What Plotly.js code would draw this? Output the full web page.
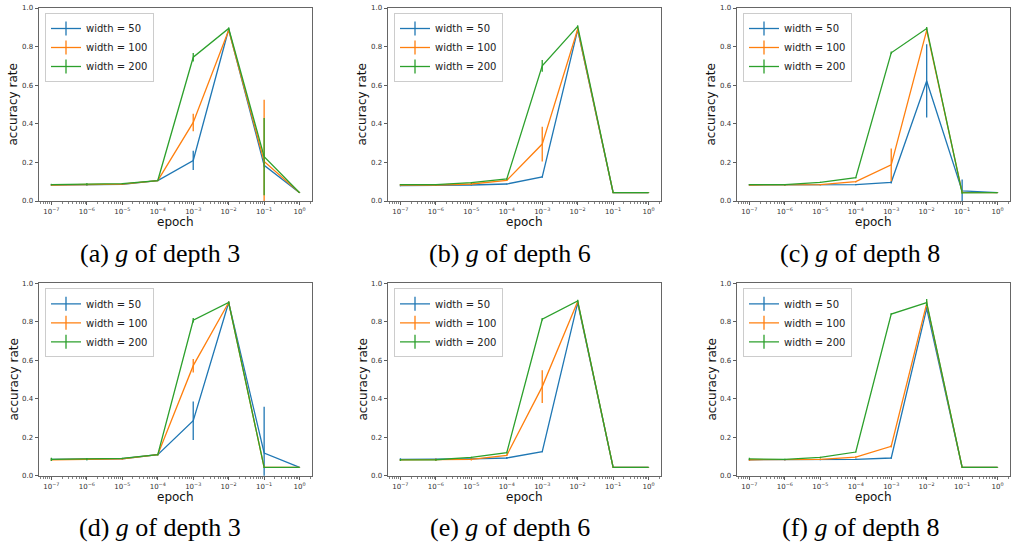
<!DOCTYPE html>
<html>
<head>
<meta charset="utf-8">
<script src="https://cdn.plot.ly/plotly-3.0.1.min.js"></script>
<style>html,body{margin:0;padding:0;background:#fff;}#chart{width:1012px;height:546px;}</style>
</head>
<body>
<div id="chart"></div>
<script>
// ---- data ----
const epochs = [1e-7, 1e-6, 1e-5, 1e-4, 1e-3, 1e-2, 1e-1, 1];
const epochTickLabels = ['10<sup>−7</sup>','10<sup>−6</sup>','10<sup>−5</sup>','10<sup>−4</sup>','10<sup>−3</sup>','10<sup>−2</sup>','10<sup>−1</sup>','10<sup>0</sup>'];
const seriesNames = ['width = 50', 'width = 100', 'width = 200'];
const captions = ['(a) <i>g</i> of depth 3','(b) <i>g</i> of depth 6','(c) <i>g</i> of depth 8',
                  '(d) <i>g</i> of depth 3','(e) <i>g</i> of depth 6','(f) <i>g</i> of depth 8'];

// (a)
const a_w50   = [0.083, 0.085, 0.086, 0.106, 0.210, 0.890, 0.185, 0.043];
const a_w50e  = [0.004, 0.005, 0.003, 0.003, 0.050, 0.005, 0.010, 0.001];
const a_w100  = [0.083, 0.085, 0.087, 0.106, 0.407, 0.885, 0.205, 0.043];
const a_w100e = [0.004, 0.004, 0.003, 0.003, 0.045, 0.005, 0.320, 0.001];
const a_w200  = [0.085, 0.087, 0.090, 0.106, 0.745, 0.894, 0.230, 0.043];
const a_w200e = [0.004, 0.005, 0.003, 0.003, 0.022, 0.005, 0.200, 0.001];
// (b)
const b_w50   = [0.080, 0.081, 0.083, 0.088, 0.125, 0.887, 0.043, 0.043];
const b_w50e  = [0.004, 0.003, 0.003, 0.003, 0.004, 0.005, 0.001, 0.001];
const b_w100  = [0.083, 0.083, 0.088, 0.107, 0.295, 0.890, 0.043, 0.043];
const b_w100e = [0.004, 0.003, 0.005, 0.004, 0.090, 0.010, 0.001, 0.001];
const b_w200  = [0.085, 0.085, 0.095, 0.114, 0.700, 0.905, 0.043, 0.043];
const b_w200e = [0.003, 0.003, 0.004, 0.004, 0.030, 0.005, 0.001, 0.001];
// (c)
const c_w50   = [0.083, 0.083, 0.085, 0.085, 0.097, 0.622, 0.052, 0.043];
const c_w50e  = [0.004, 0.003, 0.003, 0.003, 0.006, 0.190, 0.060, 0.001];
const c_w100  = [0.083, 0.083, 0.085, 0.100, 0.187, 0.884, 0.045, 0.043];
const c_w100e = [0.003, 0.003, 0.003, 0.004, 0.085, 0.010, 0.006, 0.001];
const c_w200  = [0.085, 0.085, 0.097, 0.121, 0.768, 0.894, 0.042, 0.043];
const c_w200e = [0.003, 0.003, 0.003, 0.003, 0.006, 0.008, 0.003, 0.001];
// (d)
const d_w50   = [0.085, 0.085, 0.088, 0.109, 0.286, 0.900, 0.118, 0.043];
const d_w50e  = [0.006, 0.005, 0.004, 0.003, 0.100, 0.005, 0.240, 0.001];
const d_w100  = [0.083, 0.085, 0.087, 0.109, 0.572, 0.900, 0.043, 0.043];
const d_w100e = [0.006, 0.004, 0.003, 0.003, 0.035, 0.005, 0.002, 0.001];
const d_w200  = [0.085, 0.086, 0.090, 0.109, 0.808, 0.900, 0.043, 0.043];
const d_w200e = [0.008, 0.006, 0.003, 0.003, 0.012, 0.005, 0.002, 0.001];
// (e)
const e_w50   = [0.085, 0.085, 0.087, 0.092, 0.125, 0.898, 0.043, 0.043];
const e_w50e  = [0.006, 0.005, 0.003, 0.005, 0.003, 0.005, 0.001, 0.001];
const e_w100  = [0.082, 0.083, 0.085, 0.106, 0.463, 0.905, 0.043, 0.043];
const e_w100e = [0.005, 0.006, 0.006, 0.004, 0.085, 0.006, 0.001, 0.001];
const e_w200  = [0.082, 0.083, 0.095, 0.120, 0.813, 0.908, 0.043, 0.043];
const e_w200e = [0.005, 0.004, 0.004, 0.005, 0.006, 0.006, 0.001, 0.001];
// (f)
const f_w50   = [0.083, 0.083, 0.083, 0.085, 0.092, 0.870, 0.043, 0.043];
const f_w50e  = [0.005, 0.004, 0.003, 0.004, 0.004, 0.015, 0.001, 0.001];
const f_w100  = [0.083, 0.083, 0.085, 0.097, 0.153, 0.894, 0.043, 0.043];
const f_w100e = [0.005, 0.003, 0.004, 0.004, 0.006, 0.015, 0.001, 0.001];
const f_w200  = [0.087, 0.085, 0.095, 0.123, 0.840, 0.900, 0.043, 0.043];
const f_w200e = [0.006, 0.003, 0.004, 0.003, 0.004, 0.018, 0.001, 0.001];

// ---- build ----
const panels = [
  [[a_w50,a_w50e],[a_w100,a_w100e],[a_w200,a_w200e]],
  [[b_w50,b_w50e],[b_w100,b_w100e],[b_w200,b_w200e]],
  [[c_w50,c_w50e],[c_w100,c_w100e],[c_w200,c_w200e]],
  [[d_w50,d_w50e],[d_w100,d_w100e],[d_w200,d_w200e]],
  [[e_w50,e_w50e],[e_w100,e_w100e],[e_w200,e_w200e]],
  [[f_w50,f_w50e],[f_w100,f_w100e],[f_w200,f_w200e]]
];
const colors = ['#1f77b4', '#ff7f0e', '#2ca02c'];
const W = 1012, H = 546;
const colPx = [[39, 312], [388, 661], [737, 1010]];
const rowPx = [[8, 201], [283.3, 475.7]];

const minorVals = [];
for (let k = -8; k <= 0; k++) for (let m = 2; m <= 9; m++) minorVals.push(m * Math.pow(10, k));

const traces = [];
const layout = {
  width: W, height: H,
  margin: {l: 0, r: 0, t: 0, b: 0},
  paper_bgcolor: '#fff', plot_bgcolor: '#fff',
  font: {family: 'DejaVu Sans, sans-serif', color: '#222'},
  showlegend: true,
  annotations: []
};

panels.forEach((series, p) => {
  const n = p + 1;
  const sfx = n === 1 ? '' : String(n);
  const row = Math.floor(p / 3), col = p % 3;
  const xd = [colPx[col][0] / W, colPx[col][1] / W];
  const yd = [1 - rowPx[row][1] / H, 1 - rowPx[row][0] / H];
  const legName = 'legend' + sfx;

  series.forEach(([vals, errs], s) => {
    traces.push({
      type: 'scatter', mode: 'lines',
      x: epochs, y: vals,
      xaxis: 'x' + sfx, yaxis: 'y' + sfx,
      line: {color: colors[s], width: 1.3},
      error_y: {type: 'data', array: errs, visible: true, color: colors[s], thickness: 1.3, width: 0},
      showlegend: false, hoverinfo: 'skip'
    });
  });
  // legend entries (line with vertical error tick)
  series.forEach((_, s) => {
    traces.push({
      type: 'scatter', mode: 'lines+markers',
      x: [null], y: [null],
      xaxis: 'x' + sfx, yaxis: 'y' + sfx,
      name: seriesNames[s],
      line: {color: colors[s], width: 1.3},
      marker: {symbol: 'line-ns-open', size: 10, color: colors[s], line: {color: colors[s], width: 1.3}},
      legend: legName, showlegend: true
    });
  });

  layout['xaxis' + sfx] = {
    domain: xd, anchor: 'y' + sfx, type: 'log', range: [-7.35, 0.35],
    tickmode: 'array', tickvals: epochs, ticktext: epochTickLabels,
    ticks: 'outside', ticklen: 3.5, tickwidth: 0.8, tickcolor: '#333',
    minor: {tickmode: 'array', tickvals: minorVals, ticks: 'outside', ticklen: 2, tickwidth: 0.6, tickcolor: '#333', showgrid: false},
    showline: true, mirror: true, linecolor: '#555', linewidth: 0.9,
    showgrid: false, zeroline: false,
    tickfont: {size: 7, color: '#333'}
  };
  layout['yaxis' + sfx] = {
    domain: yd, anchor: 'x' + sfx, range: [0, 1],
    tickmode: 'array', tickvals: [0, 0.2, 0.4, 0.6, 0.8, 1.0], tickformat: '.1f',
    ticks: 'outside', ticklen: 3.5, tickwidth: 0.8, tickcolor: '#333',
    showline: true, mirror: true, linecolor: '#555', linewidth: 0.9,
    showgrid: false, zeroline: false,
    tickfont: {size: 7, color: '#333'}
  };
  layout[legName] = {
    x: xd[0] + 6 / W, y: yd[1] - 5 / H, xanchor: 'left', yanchor: 'top',
    xref: 'paper', yref: 'paper',
    bgcolor: 'rgba(255,255,255,0.8)', bordercolor: '#ccc', borderwidth: 1,
    font: {size: 10, color: '#222'}, itemwidth: 30, tracegroupgap: 0
  };
  // axis titles
  const xc = (colPx[col][0] + colPx[col][1]) / 2;
  layout.annotations.push({
    text: 'epoch', xref: 'paper', yref: 'paper',
    x: xc / W, y: 1 - (rowPx[row][1] + 21) / H, xanchor: 'center', yanchor: 'middle',
    showarrow: false, font: {size: 12, color: '#111'}
  });
  layout.annotations.push({
    text: 'accuracy rate', xref: 'paper', yref: 'paper', textangle: -90,
    x: (colPx[col][0] - 26) / W, y: 1 - ((rowPx[row][0] + rowPx[row][1]) / 2) / H,
    xanchor: 'center', yanchor: 'middle',
    showarrow: false, font: {size: 12, color: '#111'}
  });
  // caption
  const capX = [160, 510, 860][col];
  const capY = [253, 527][row];
  layout.annotations.push({
    text: captions[p], xref: 'paper', yref: 'paper',
    x: capX / W, y: 1 - capY / H, xanchor: 'center', yanchor: 'middle',
    showarrow: false, font: {family: 'Liberation Serif, Times New Roman, serif', size: 26, color: '#000'}
  });
});

Plotly.newPlot('chart', traces, layout, {staticPlot: true, displayModeBar: false});
</script>
</body>
</html>
